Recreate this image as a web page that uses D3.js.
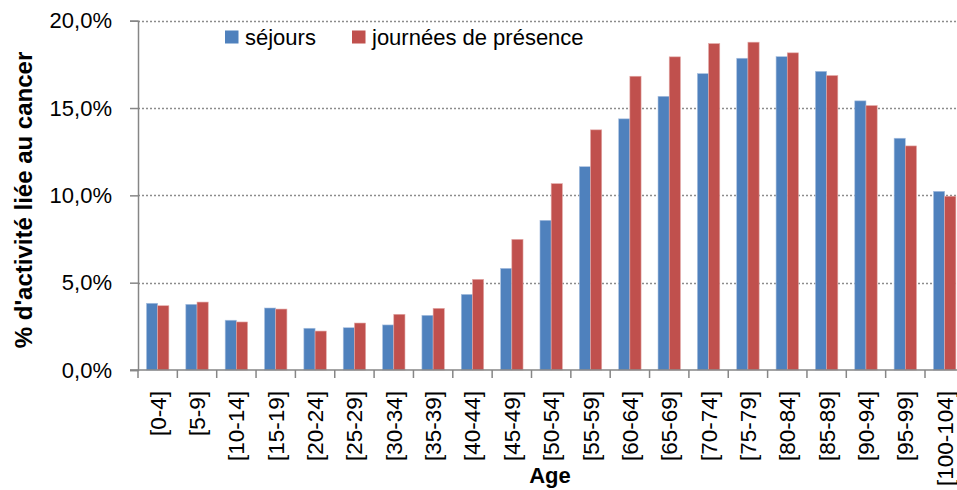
<!DOCTYPE html>
<html>
<head>
<meta charset="utf-8">
<script src="https://cdn.jsdelivr.net/npm/d3@7"></script>
<style>
  body { margin: 0; background: #fff; }
  text { font-family: "Liberation Sans", Arial, sans-serif; fill: #000; }
</style>
</head>
<body>
<div id="chart"></div>
<script>
// age classes
let categories = ["[0-4]", "[5-9]", "[10-14]", "[15-19]", "[20-24]", "[25-29]", "[30-34]",
    "[35-39]", "[40-44]", "[45-49]", "[50-54]", "[55-59]", "[60-64]", "[65-69]", "[70-74]",
    "[75-79]", "[80-84]", "[85-89]", "[90-94]", "[95-99]", "[100-104]"]

// % of activity linked to cancer
let sejours = [3.82, 3.76, 2.85, 3.55, 2.39, 2.42, 2.58, 3.13, 4.33, 5.82, 8.57, 11.64,
    14.38, 15.67, 16.97, 17.85, 17.94, 17.10, 15.41, 13.27, 10.23]
let journees = [3.68, 3.89, 2.75, 3.49, 2.23, 2.69, 3.19, 3.53, 5.19, 7.48, 10.67, 13.75,
    16.82, 17.93, 18.69, 18.77, 18.16, 16.86, 15.14, 12.83, 9.95]

let seriesNames = ["séjours", "journées de présence"]
let seriesColors = ["#4F81BD", "#C0504D"]
let yTicks = [0, 5, 10, 15, 20]

let width = 957, height = 490
let margin = {top: 20.7, left: 138, bottom: 120}
let plotBottom = 370

let svg = d3.select("#chart")
    .append("svg")
    .attr("width", width)
    .attr("height", height)

// the plot runs a bit past the right edge, as in the original
let x = d3.scaleBand()
    .domain(categories)
    .range([margin.left, margin.left + categories.length * 39.35])

let xSub = d3.scaleBand()
    .domain([0, 1])
    .range([0, 22.4])

let y = d3.scaleLinear()
    .domain([0, 20])
    .range([plotBottom, margin.top])

// gridlines
svg.append("g")
    .selectAll("line")
    .data(yTicks.filter(d => d > 0))
    .enter()
    .append("line")
    .attr("x1", margin.left)
    .attr("x2", width)
    .attr("y1", d => Math.round(y(d)) + 0.5)
    .attr("y2", d => Math.round(y(d)) + 0.5)
    .attr("stroke", "#8c8c8c")
    .attr("stroke-width", 1.3)
    .attr("stroke-dasharray", "2,2")

// bars
let data = categories.map((c, i) => ({cat: c, values: [sejours[i], journees[i]]}))
let groupOffset = (x.bandwidth() - 22.4) / 2

let groups = svg.append("g")
    .selectAll("g")
    .data(data)
    .enter()
    .append("g")
    .attr("transform", d => `translate(${x(d.cat) + groupOffset},0)`)

groups.selectAll("rect")
    .data(d => d.values.map((v, k) => ({k: k, v: v})))
    .enter()
    .append("rect")
    .attr("x", d => xSub(d.k))
    .attr("width", xSub.bandwidth())
    .attr("y", d => y(d.v))
    .attr("height", d => plotBottom - y(d.v))
    .attr("fill", d => seriesColors[d.k])
    .attr("stroke", d => d.k == 0 ? "#a9c0e0" : "#e3a9a7")
    .attr("stroke-width", 0.6)

// y axis
let yAxis = svg.append("g")
    .attr("transform", `translate(${margin.left},0)`)
    .call(d3.axisLeft(y)
        .tickValues(yTicks)
        .tickSize(8)
        .tickPadding(18)
        .tickFormat(d => d3.format(".1f")(d).replace(".", ",") + "%"))
yAxis.select(".domain").attr("stroke", "#868686").attr("stroke-width", 1.5)
yAxis.selectAll(".tick line").attr("stroke", "#868686").attr("stroke-width", 1.5)
yAxis.selectAll(".tick text").style("font-size", "22px")

// x axis baseline and ticks at category boundaries
svg.append("line")
    .attr("x1", margin.left - 8)
    .attr("x2", width)
    .attr("y1", plotBottom)
    .attr("y2", plotBottom)
    .attr("stroke", "#868686")
    .attr("stroke-width", 1.5)

svg.append("g")
    .selectAll("line")
    .data(categories)
    .enter()
    .append("line")
    .attr("x1", d => x(d))
    .attr("x2", d => x(d))
    .attr("y1", plotBottom)
    .attr("y2", plotBottom + 8)
    .attr("stroke", "#868686")
    .attr("stroke-width", 1.5)

// rotated category labels
svg.append("g")
    .selectAll("text")
    .data(categories)
    .enter()
    .append("text")
    .attr("transform", d => `translate(${x(d) + x.bandwidth() / 2 + 8},${plotBottom + 21}) rotate(-90)`)
    .style("text-anchor", "end")
    .style("font-size", "22.5px")
    .text(d => d)

// axis titles
svg.append("text")
    .attr("transform", `translate(32,200) rotate(-90)`)
    .style("text-anchor", "middle")
    .style("font-size", "24px")
    .style("font-weight", "bold")
    .text("% d'activité liée au cancer")

svg.append("text")
    .attr("x", 550)
    .attr("y", 483)
    .style("text-anchor", "middle")
    .style("font-size", "22px")
    .style("font-weight", "bold")
    .text("Age")

// legend
let legendX = [225, 352]
let legend = svg.append("g")

legend.selectAll("rect")
    .data(seriesNames)
    .enter()
    .append("rect")
    .attr("x", (d, i) => legendX[i])
    .attr("y", 30.5)
    .attr("width", 13.5)
    .attr("height", 13)
    .attr("fill", (d, i) => seriesColors[i])

legend.selectAll("text")
    .data(seriesNames)
    .enter()
    .append("text")
    .attr("x", (d, i) => legendX[i] + 20)
    .attr("y", 45)
    .style("font-size", "22px")
    .text(d => d)
</script>
</body>
</html>
